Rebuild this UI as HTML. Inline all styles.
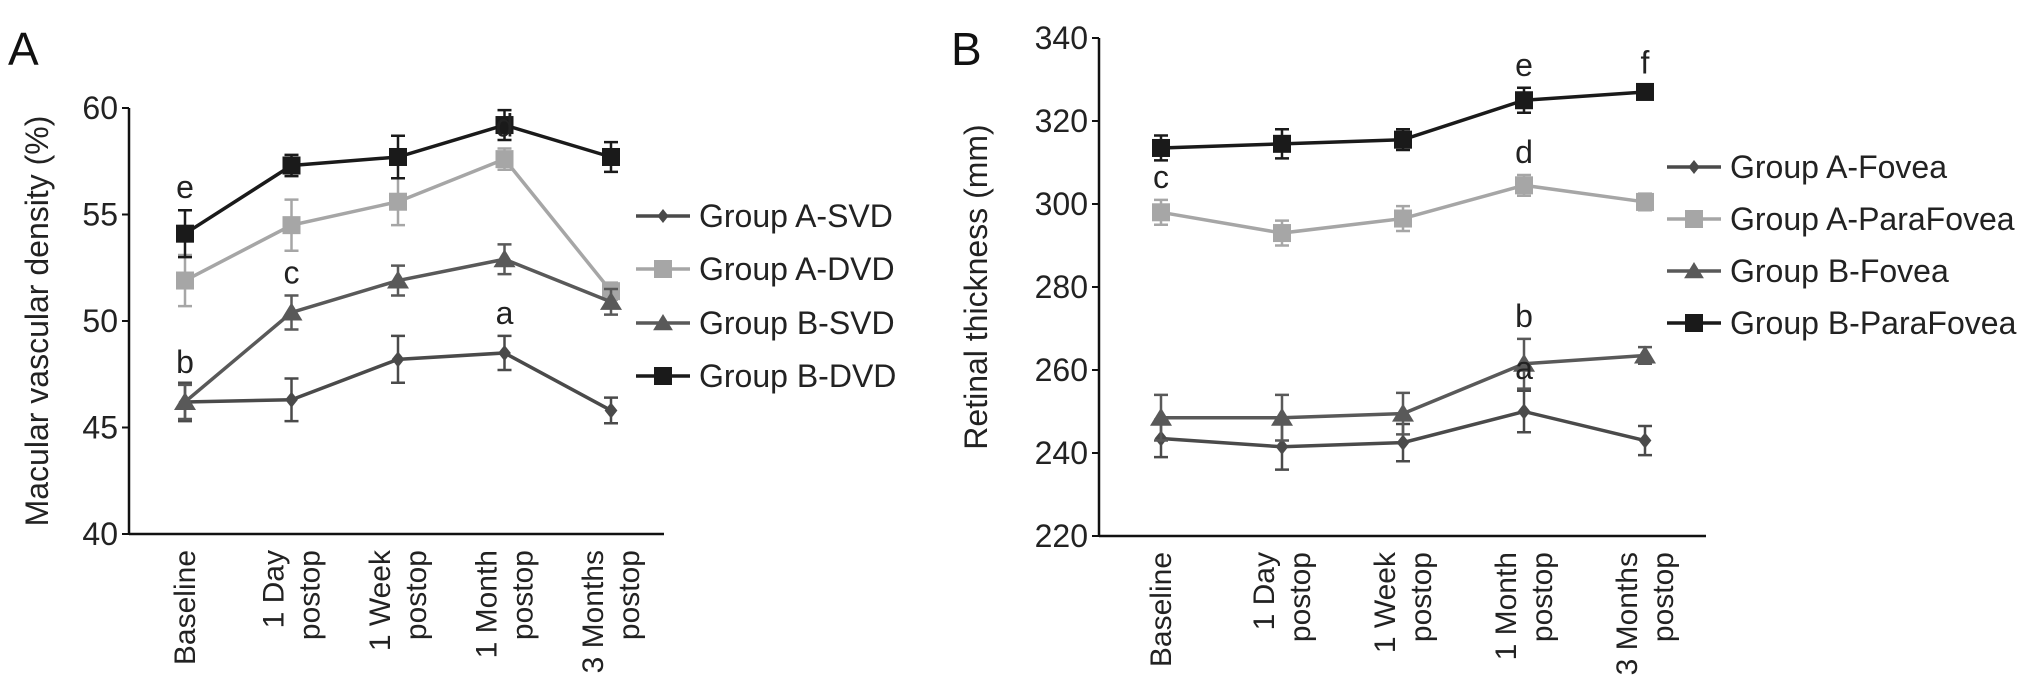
<!DOCTYPE html>
<html><head><meta charset="utf-8">
<style>
html,body{margin:0;padding:0;background:#fff;}
svg{display:block;font-family:"Liberation Sans",Arial,sans-serif;}
</style></head>
<body>
<svg id="fig" width="2032" height="695" viewBox="0 0 2032 695"></svg>
<script>
const categories = ["Baseline|", "1 Day|postop", "1 Week|postop", "1 Month|postop", "3 Months|postop"];
// Panel A
const aNames = ["Group A-SVD", "Group A-DVD", "Group B-SVD", "Group B-DVD"];
const aASVD = [46.2, 46.3, 48.2, 48.5, 45.8];
const aASVDerr = [0.9, 1.0, 1.1, 0.8, 0.6];
const aADVD = [51.9, 54.5, 55.6, 57.6, 51.4];
const aADVDerr = [1.2, 1.2, 1.1, 0.5, 0.4];
const aBSVD = [46.2, 50.4, 51.9, 52.9, 50.9];
const aBSVDerr = [0.8, 0.8, 0.7, 0.7, 0.6];
const aBDVD = [54.1, 57.3, 57.7, 59.2, 57.7];
const aBDVDerr = [1.1, 0.5, 1.0, 0.7, 0.7];
const aTicks = [40, 45, 50, 55, 60];
const aLetters = [["e",0,3],["d",3,1],["c",1,2],["b",0,2],["a",3,0]];
// Panel B
const bNames = ["Group A-Fovea", "Group A-ParaFovea", "Group B-Fovea", "Group B-ParaFovea"];
const bAF = [243.5, 241.5, 242.5, 250, 243];
const bAFerr = [4.5, 5.5, 4.5, 5, 3.5];
const bAP = [298, 293, 296.5, 304.5, 300.5];
const bAPerr = [3, 3, 3, 2.5, 2];
const bBF = [248.5, 248.5, 249.5, 261.5, 263.5];
const bBFerr = [5.5, 5.5, 5, 6, 2];
const bBP = [313.5, 314.5, 315.5, 325, 327];
const bBPerr = [3, 3.5, 2.5, 3, 1.5];
const bTicks = [220, 240, 260, 280, 300, 320, 340];
const bLetters = [["c",0,1],["e",3,3],["f",4,3],["d",3,1],["b",3,2],["a",3,0]];

const styles = [
  {color:"#4a4a4a", marker:"diamond"},
  {color:"#a6a6a6", marker:"square"},
  {color:"#595959", marker:"triangle"},
  {color:"#1a1a1a", marker:"square"}
];
const FS = 32;
const XFS = 30;
const NS = "http://www.w3.org/2000/svg";
const svg = document.getElementById("fig");
function el(tag, attrs, parent, text){
  const e = document.createElementNS(NS, tag);
  for (const k in attrs) e.setAttribute(k, attrs[k]);
  if (text !== undefined) e.textContent = text;
  (parent || svg).appendChild(e);
  return e;
}
function marker(g, type, x, y, color, s){
  let m;
  if (type === "square") m = el("rect", {x:x-s, y:y-s, width:2*s, height:2*s, fill:color}, g);
  else if (type === "diamond") m = el("polygon", {points:`${x},${y-s} ${x+s*0.8},${y} ${x},${y+s} ${x-s*0.8},${y}`, fill:color}, g);
  else m = el("polygon", {points:`${x},${y-s} ${x+s*1.1},${y+s*0.8} ${x-s*1.1},${y+s*0.8}`, fill:color}, g);
  
  
}

function panel(cfg){
  const {x0, xEnd, yTop, yBot, vMin, vMax, xs, series, errs, ticks, names, letters, title, titleX, label, labelX, legX, legYs, id} = cfg;
  const Y = v => yBot - (v - vMin) / (vMax - vMin) * (yBot - yTop);
  const X = i => xs[0] + i * xs[1];
  const g = el("g", {}, svg);
  
  
  const pl = el("text", {x:labelX, y:65, "font-size":46, fill:"#111"}, g, label);
  
  
  const ya = el("line", {x1:x0, y1:yTop, x2:x0, y2:yBot, stroke:"#111", "stroke-width":2.5}, g);
  
  
  const xa = el("line", {x1:x0, y1:yBot, x2:xEnd, y2:yBot, stroke:"#111", "stroke-width":2.5}, g);
  
  
  ticks.forEach(t => {
    const tl = el("line", {x1:x0-7, y1:Y(t), x2:x0, y2:Y(t), stroke:"#111", "stroke-width":2}, g);
    
    
    const tt = el("text", {x:x0-11, y:Y(t)+11, "font-size":FS, "text-anchor":"end", fill:"#222"}, g, t);
    
    
  });
  const yt = el("text", {transform:`translate(${titleX},${(yTop+yBot)/2}) rotate(-90)`, "font-size":FS, "text-anchor":"middle", fill:"#222"}, g, title);
  
  
  categories.forEach((c, i) => {
    const parts = c.split("|").filter(p => p);
    parts.forEach((p, j) => {
      const off = parts.length === 1 ? 0 : (j === 0 ? -18 : 18);
      const tx = el("text", {transform:`translate(${X(i)+off+10},${yBot+16}) rotate(-90)`, "font-size":XFS, "text-anchor":"end", fill:"#222"}, g, p);
      
      
    });
  });
  series.forEach((s, k) => {
    const st = styles[k];
    const sg = el("g", {}, g);
    
    
    s.forEach((v, i) => {
      const e = errs[k][i];
      const eb = el("path", {d:`M${X(i)},${Y(v-e)}V${Y(v+e)}M${X(i)-7},${Y(v-e)}h14M${X(i)-7},${Y(v+e)}h14`, stroke:st.color, "stroke-width":2.5, fill:"none"}, sg);
      
      
    });
    const ln = el("polyline", {points:s.map((v,i)=>`${X(i)},${Y(v)}`).join(" "), stroke:st.color, "stroke-width":3.5, fill:"none"}, sg);
    
    
    s.forEach((v, i) => marker(sg, st.marker, X(i), Y(v), st.color, st.marker==="diamond"?8:(st.marker==="triangle"?10:9)));
    const lg = el("g", {}, g);
    
    
    const ly = legYs[k];
    el("line", {x1:legX, y1:ly, x2:legX+54, y2:ly, stroke:st.color, "stroke-width":3.5}, lg);
    marker(lg, st.marker, legX+27, ly, st.color, st.marker==="diamond"?7:9);
    el("text", {x:legX+63, y:ly+11, "font-size":FS, fill:"#222"}, lg, names[k]);
  });
  letters.forEach(([t, i, k]) => {
    const v = series[k][i], e = errs[k][i];
    const lt = el("text", {x:X(i), y:Y(v+e)-12, "font-size":FS, "text-anchor":"middle", fill:"#222"}, g, t);
    
    
  });
}

panel({id:"panel-a", x0:129, xEnd:664, yTop:108, yBot:534, vMin:40, vMax:60,
  xs:[185, 106.5], series:[aASVD,aADVD,aBSVD,aBDVD], errs:[aASVDerr,aADVDerr,aBSVDerr,aBDVDerr],
  ticks:aTicks, names:aNames, letters:aLetters, title:"Macular vascular density (%)", titleX:48,
  label:"A", labelX:8, legX:636, legYs:[216,269,323,376]});
panel({id:"panel-b", x0:1099, xEnd:1706, yTop:38, yBot:536, vMin:220, vMax:340,
  xs:[1161, 121], series:[bAF,bAP,bBF,bBP], errs:[bAFerr,bAPerr,bBFerr,bBPerr],
  ticks:bTicks, names:bNames, letters:bLetters, title:"Retinal thickness (mm)", titleX:987,
  label:"B", labelX:951, legX:1667, legYs:[167,219,271,323]});
</script>
</body></html>
